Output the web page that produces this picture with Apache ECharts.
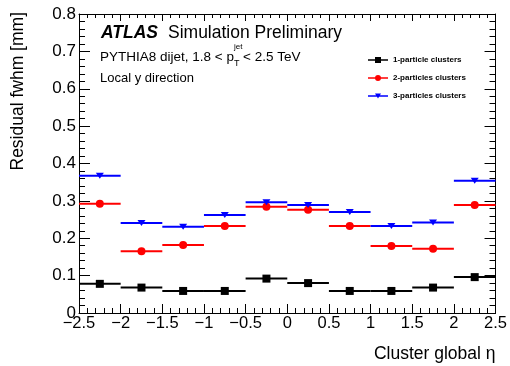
<!DOCTYPE html>
<html>
<head>
<meta charset="utf-8">
<script src="https://cdn.jsdelivr.net/npm/echarts@6/dist/echarts.min.js"></script>
<style>html,body{margin:0;padding:0;background:#fff}#chart{width:510px;height:366px}</style>
</head>
<body>
<div id="chart"></div>
<script>
// ---- data ----
const etaCenters = [-2.25, -1.75, -1.25, -0.75, -0.25, 0.25, 0.75, 1.25, 1.75, 2.25];
const binHalfWidth = 0.25;
const seriesNames = ['1-particle clusters', '2-particles clusters', '3-particles clusters'];
const fwhm1 = [0.078, 0.068, 0.059, 0.059, 0.092, 0.080, 0.059, 0.059, 0.068, 0.096];
const fwhm2 = [0.292, 0.165, 0.182, 0.233, 0.284, 0.276, 0.233, 0.179, 0.172, 0.289];
const fwhm3 = [0.367, 0.241, 0.231, 0.262, 0.296, 0.289, 0.270, 0.233, 0.242, 0.354];
const xTicks = { min: -2.5, max: 2.5, interval: 0.5 };
const yTicks = { min: 0, max: 0.8, interval: 0.1 };

const FONT = '"Liberation Sans", Arial, Helvetica, sans-serif';
const colors = ['#000000', '#ff0000', '#0000ff'];
const symbols = ['rect', 'circle', 'triangle'];
const symbolRot = [0, 0, 180];
const symbolSizes = [8, 8, [8, 6]];
const allValues = [fwhm1, fwhm2, fwhm3];

const lineBar = 'M0,2.3 L20,2.3 L20,3.7 L0,3.7 Z ';
const icons = [
  'path://' + lineBar + 'M7,0 L13,0 L13,6 L7,6 Z',
  'path://' + lineBar + 'M13,3 A3,3 0 1,1 7,3 A3,3 0 1,1 13,3 Z',
  'path://' + lineBar + 'M7,0.5 L13,0.5 L10,5.5 Z'
];

const series = [];
allValues.forEach((vals, i) => {
  const data = etaCenters.map((x, k) => [x, vals[k]]);
  series.push({
    type: 'custom',
    name: seriesNames[i],
    itemStyle: { color: colors[i] },
    encode: { x: 0, y: 1 },
    clip: true,
    z: 2,
    renderItem: function (params, api) {
      const x = api.value(0), y = api.value(1);
      const a = api.coord([x - binHalfWidth, y]);
      const b = api.coord([x + binHalfWidth, y]);
      return {
        type: 'line',
        shape: { x1: a[0], y1: a[1], x2: b[0], y2: b[1] },
        style: { stroke: colors[i], lineWidth: 2 }
      };
    },
    data: data
  });
  series.push({
    type: 'scatter',
    name: seriesNames[i],
    symbol: symbols[i],
    symbolRotate: symbolRot[i],
    symbolSize: symbolSizes[i],
    itemStyle: { color: colors[i], opacity: 1 },
    z: 3,
    data: data
  });
});

function fmtX(v) {
  if (Math.abs(v) < 1e-9) return '0';
  return (v < 0 ? '\u2212' : '') + String(Math.abs(v));
}
function fmtY(v) {
  if (Math.abs(v) < 1e-9) return '0';
  return v.toFixed(1);
}

const axisLineStyle = { show: true, onZero: false, lineStyle: { color: '#000', width: 1 } };

const option = {
  animation: false,
  backgroundColor: '#fff',
  grid: { left: 79, right: 13, top: 14, bottom: 53, containLabel: false },
  title: [
    { text: 'ATLAS', left: 101, top: 24, padding: 0,
      textStyle: { fontFamily: FONT, fontSize: 17.5, fontWeight: 'bold', fontStyle: 'italic', color: '#000' } },
    { text: 'Simulation Preliminary', left: 168, top: 24, padding: 0,
      textStyle: { fontFamily: FONT, fontSize: 17.5, fontWeight: 'normal', color: '#000' } },
    { text: 'PYTHIA8 dijet, 1.8 < p', left: 100, top: 50, padding: 0,
      textStyle: { fontFamily: FONT, fontSize: 13.5, fontWeight: 'normal', color: '#000' } },
    { text: 'jet', left: 234, top: 43, padding: 0,
      textStyle: { fontFamily: FONT, fontSize: 8, fontWeight: 'normal', color: '#000' } },
    { text: 'T', left: 234, top: 59, padding: 0,
      textStyle: { fontFamily: FONT, fontSize: 9, fontWeight: 'normal', color: '#000' } },
    { text: '< 2.5 TeV', left: 243, top: 50, padding: 0,
      textStyle: { fontFamily: FONT, fontSize: 13.5, fontWeight: 'normal', color: '#000' } },
    { text: 'Local y direction', left: 100, top: 71.5, padding: 0,
      textStyle: { fontFamily: FONT, fontSize: 13, fontWeight: 'normal', color: '#000' } }
  ],
  legend: {
    orient: 'vertical',
    left: 368,
    top: 56,
    padding: 0,
    itemWidth: 20,
    itemHeight: 6,
    itemGap: 10,
    selectedMode: false,
    textStyle: { fontFamily: FONT, fontSize: 8, fontWeight: 'bold', color: '#000' },
    data: seriesNames.map((n, i) => ({ name: n, icon: icons[i], itemStyle: { color: colors[i] } }))
  },
  xAxis: [
    {
      type: 'value', position: 'bottom',
      min: xTicks.min, max: xTicks.max, interval: xTicks.interval,
      name: 'Cluster global \u03b7',
      nameLocation: 'end', nameGap: 0, nameMoveOverlap: false,
      nameTextStyle: { fontFamily: FONT, fontSize: 17.5, color: '#000', align: 'right', verticalAlign: 'top', padding: [32, 0, 0, 0] },
      axisLine: axisLineStyle,
      axisTick: { show: true, inside: true, length: 9, lineStyle: { color: '#000', width: 1 } },
      minorTick: { show: true, splitNumber: 5, length: 5, lineStyle: { color: '#000', width: 1 } },
      splitLine: { show: false },
      axisLabel: { show: true, margin: 2, fontFamily: FONT, fontSize: 16.5, color: '#000', formatter: fmtX, showMinLabel: true, showMaxLabel: true, hideOverlap: false }
    },
    {
      type: 'value', position: 'top',
      min: xTicks.min, max: xTicks.max, interval: xTicks.interval,
      axisLine: axisLineStyle,
      axisTick: { show: true, inside: true, length: 7, lineStyle: { color: '#000', width: 1 } },
      minorTick: { show: true, splitNumber: 5, length: 4, lineStyle: { color: '#000', width: 1 } },
      splitLine: { show: false },
      axisLabel: { show: false }
    }
  ],
  yAxis: [
    {
      type: 'value', position: 'left',
      min: yTicks.min, max: yTicks.max, interval: yTicks.interval,
      name: 'Residual fwhm [mm]',
      nameLocation: 'end', nameGap: 2, nameRotate: 90, nameMoveOverlap: false,
      nameTextStyle: { fontFamily: FONT, fontSize: 17.5, color: '#000', align: 'right', verticalAlign: 'bottom', padding: [0, 0, 52, 0] },
      axisLine: axisLineStyle,
      axisTick: { show: true, inside: true, length: 11, lineStyle: { color: '#000', width: 1 } },
      minorTick: { show: true, splitNumber: 5, length: 6, lineStyle: { color: '#000', width: 1 } },
      splitLine: { show: false },
      axisLabel: { show: true, margin: 3, fontFamily: FONT, fontSize: 17, color: '#000', formatter: fmtY, showMinLabel: true, showMaxLabel: true, hideOverlap: false }
    },
    {
      type: 'value', position: 'right',
      min: yTicks.min, max: yTicks.max, interval: yTicks.interval,
      axisLine: axisLineStyle,
      axisTick: { show: true, inside: true, length: 11, lineStyle: { color: '#000', width: 1 } },
      minorTick: { show: true, splitNumber: 5, length: 6, lineStyle: { color: '#000', width: 1 } },
      splitLine: { show: false },
      axisLabel: { show: false }
    }
  ],
  series: series
};

const chart = echarts.init(document.getElementById('chart'), null, { renderer: 'canvas' });
chart.setOption(option);
</script>
</body>
</html>
